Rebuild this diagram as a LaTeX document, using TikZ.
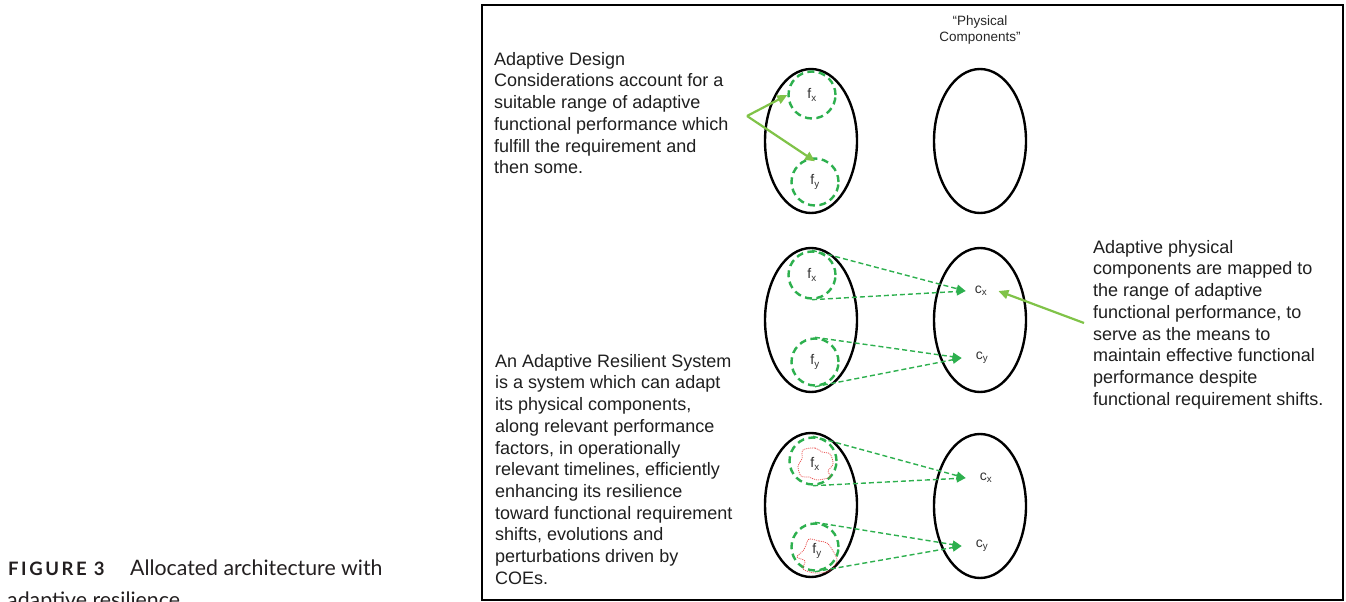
\documentclass[tikz,border=0pt]{standalone}
\usepackage{fontspec}
\setmainfont{Liberation Sans}
\newfontfamily\capfont{Lato}
\newfontfamily\capfontwide[LetterSpace=14]{Lato}
\usetikzlibrary{shapes.geometric,arrows.meta}
\definecolor{dashgreen}{HTML}{2DB04E}
\definecolor{leafgreen}{HTML}{80C348}
\definecolor{blobred}{HTML}{E8403F}
\definecolor{captext}{HTML}{231F20}

\begin{document}
\begin{tikzpicture}[x=1pt,y=-1pt,
  every node/.style={inner sep=0pt},
  bigoval/.style={ellipse, draw=black, line width=2.4pt, minimum width=92pt, minimum height=144pt},
  fring/.style={circle, draw=dashgreen, line width=2.4pt, dash pattern=on 7pt off 4.5pt, minimum size=47pt, font=\fontsize{14}{14}\selectfont, text=black!80},
  clabel/.style={font=\fontsize{14}{14}\selectfont, text=black!80},
  maplink/.style={draw=dashgreen, line width=1.4pt, dash pattern=on 5pt off 3pt, -{Triangle[length=9pt,width=8pt]}},
  callout/.style={draw=leafgreen, line width=2.2pt, -{Triangle[length=10pt,width=9pt]}},
  blob/.style={draw=blobred, line width=0.7pt, dash pattern=on 1pt off 1pt},
  prose/.style={anchor=north west, align=left, font=\fontsize{18}{21.7}\selectfont, text=black!88},
]
\useasboundingbox (0,0) rectangle (1346,602);
\fill[white] (0,0) rectangle (1346,602);

% outer frame of the figure panel
\draw[line width=2pt] (482,5) rectangle (1343,600);

% caption
\node[anchor=base west, text=captext, font=\capfontwide\bfseries\fontsize{18.5}{20}\selectfont] (capnum) at (8,575) {FIGURE 3};
\node[anchor=base west, text=captext, font=\capfont\fontsize{21.3}{22}\selectfont] (capline1) at (130,575) {Allocated architecture with};
\node[anchor=base west, text=captext, font=\capfont\fontsize{21.3}{22}\selectfont] (capline2) at (7,607) {adaptive resilience};

% column heading
\node[anchor=north, align=center, font=\fontsize{13.5}{16}\selectfont, text=black!85] (phys) at (980,16) {``Physical\\Components''};

% ---- row 1: design considerations ----
\node[bigoval] (tl) at (811,141) {};
\node[bigoval] (tr) at (980,141) {};
\node[fring] (tfx) at (812,95) {f\textsubscript{x}};
\node[fring] (tfy) at (815,182) {f\textsubscript{y}};

\node[prose] (adtext) at (494,52) {Adaptive Design\\Considerations account for a\\suitable range of adaptive\\functional performance which\\fulfill the requirement and\\then some.};
\coordinate (adtip) at (747,116);
\draw[callout] (adtip) -- (tfx.west);
\draw[callout] (adtip) -- ([yshift=-4pt]tfy.north);

% ---- row 2: mapping to physical components ----
\node[bigoval] (ml) at (811,320) {};
\node[bigoval] (mr) at (980,320) {};
\node[fring] (mfx) at (812,275) {f\textsubscript{x}};
\node[fring] (mfy) at (815,362) {f\textsubscript{y}};
\node[clabel] (mcx) at (981,291) {c\textsubscript{x}};
\node[clabel] (mcy) at (982,358) {c\textsubscript{y}};

\draw[maplink] (mfx.north) -- ([xshift=-9pt]mcx.west);
\draw[maplink] (mfx.south) -- ([xshift=-9pt]mcx.west);
\draw[maplink] (mfy.north) -- ([xshift=-14pt]mcy.west);
\draw[maplink] (mfy.south) -- ([xshift=-14pt]mcy.west);

\node[prose] (aptext) at (1093,240) {Adaptive physical\\components are mapped to\\the range of adaptive\\functional performance, to\\serve as the means to\\maintain effective functional\\performance despite\\functional requirement shifts.};
\coordinate (aptip) at (1084,323);
\draw[callout] (aptip) -- ([xshift=11pt]mcx.east);

% ---- row 3: adaptive resilient system ----
\node[bigoval] (bl) at (811,505) {};
\node[bigoval] (br) at (980,506) {};
\node[fring] (bfx) at (813,461) {};
\node[fring] (bfy) at (815,547) {};
\draw[blob] plot[smooth cycle, tension=0.55] coordinates {
  (803,450) (815,448) (822,452) (830,454) (833,464) (828,471) (830,477)
  (817,480) (809,477) (801,476) (798,466) (802,459)};
\draw[blob] plot[smooth cycle, tension=0.55] coordinates {
  (809,539) (819,541) (827,543) (833,551) (837,561) (829,571)
  (815,573) (803,569) (805,561) (797,557) (803,551) (806,545)};
\node[clabel] (bfxl) at (815,464) {f\textsubscript{x}};
\node[clabel] (bfyl) at (817,551) {f\textsubscript{y}};
\node[clabel] (bcx) at (986,478) {c\textsubscript{x}};
\node[clabel] (bcy) at (982,546) {c\textsubscript{y}};

\draw[maplink] (bfx.north) -- ([xshift=-14pt]bcx.west);
\draw[maplink] (bfx.south) -- ([xshift=-14pt]bcx.west);
\draw[maplink] (bfy.north) -- ([xshift=-14pt]bcy.west);
\draw[maplink] (bfy.south) -- ([xshift=-14pt]bcy.west);

\node[prose] (arstext) at (495,354) {An Adaptive Resilient System\\is a system which can adapt\\its physical components,\\along relevant performance\\factors, in operationally\\relevant timelines, efficiently\\enhancing its resilience\\toward functional requirement\\shifts, evolutions and\\perturbations driven by\\COEs.};
\end{tikzpicture}
\end{document}
